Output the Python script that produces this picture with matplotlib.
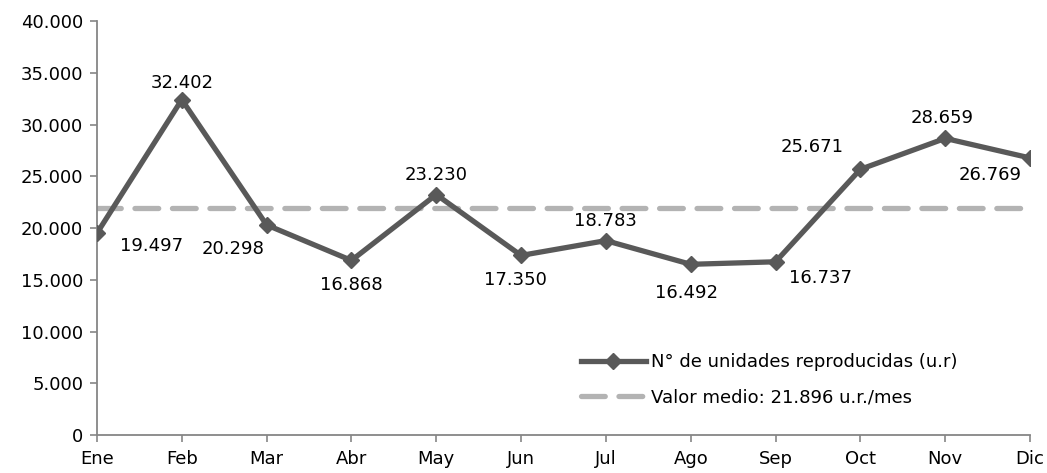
import matplotlib
matplotlib.use('Agg')
import matplotlib.pyplot as plt
from matplotlib.ticker import FuncFormatter, MultipleLocator

plt.rcParams.update({
    'font.family': ['DejaVu Sans'],
    'font.size': 13,
})

# ── Data ──────────────────────────────────────────────────────────────────────
meses = ['Ene', 'Feb', 'Mar', 'Abr', 'May', 'Jun',
         'Jul', 'Ago', 'Sep', 'Oct', 'Nov', 'Dic']
unidades = [19497, 32402, 20298, 16868, 23230, 17350,
            18783, 16492, 16737, 25671, 28659, 26769]
valor_medio = 21896

# label offsets (points) relative to each marker: (dx, dy)
offsets = [(39, -9), (0, 12), (-24, -17), (0, -18), (0, 14), (-4, -18),
           (0, 14), (-3, -21), (32, -12), (-35, 16), (-2, 15), (-29, -12)]

LINE = '#595959'
MEAN = '#B3B3B3'
AXC = '#868686'

fig = plt.figure(figsize=(10.47, 4.73), dpi=100, facecolor='white')
ax = fig.add_axes([0.0926, 0.0803, 0.8912, 0.8753])

x = list(range(len(meses)))
ax.plot(x, [valor_medio] * len(x), color=MEAN, lw=3.8, ls=(0, (4.5, 2.6)),
        dash_capstyle='round', label='Valor medio: 21.896 u.r./mes', zorder=2)
ax.plot(x, unidades, color=LINE, lw=3.8, marker='D', ms=8,
        label='N\u00b0 de unidades reproducidas (u.r)', zorder=3)

for xi, v, (dx, dy) in zip(x, unidades, offsets):
    ax.annotate(f'{v:,}'.replace(',', '.'), xy=(xi, v), xytext=(dx, dy),
                textcoords='offset points', ha='center', va='center',
                fontsize=13, color='black')

ax.set_xlim(0, len(meses) - 1)
ax.set_ylim(0, 40000)
ax.set_xticks(x)
ax.set_xticklabels(meses)
ax.yaxis.set_major_locator(MultipleLocator(5000))
ax.yaxis.set_major_formatter(FuncFormatter(lambda v, p: f'{int(v):,}'.replace(',', '.')))

for s in ['top', 'right']:
    ax.spines[s].set_visible(False)
for s in ['left', 'bottom']:
    ax.spines[s].set_color(AXC)
    ax.spines[s].set_linewidth(1.3)
ax.tick_params(axis='both', colors=AXC, labelcolor='black', width=1.2)
ax.tick_params(axis='y', length=5, pad=5)
ax.tick_params(axis='x', length=5, pad=6)

handles, labels = ax.get_legend_handles_labels()
ax.legend(handles[::-1], labels[::-1], loc='lower right',
          bbox_to_anchor=(0.94, 0.03), frameon=False, fontsize=13,
          handlelength=3.6, handletextpad=0.3, labelspacing=0.95)

fig.savefig('out.png', dpi=100, facecolor='white')
